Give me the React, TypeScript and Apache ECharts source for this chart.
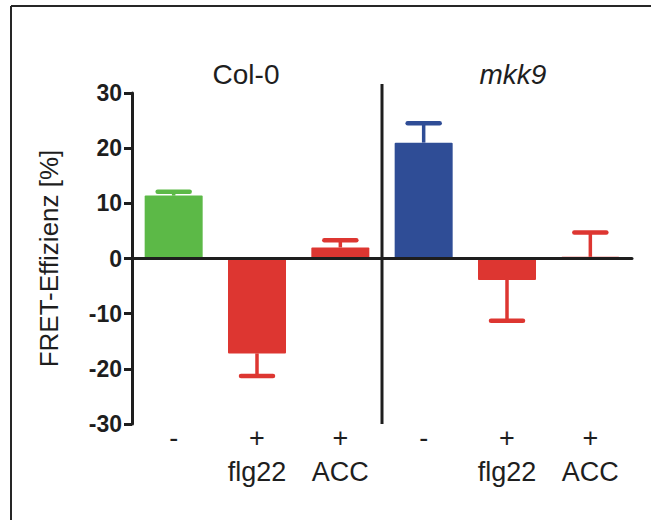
import React, { useEffect, useRef } from "react";
import * as echarts from "echarts";

const genotypes = ["Col-0", "mkk9"];
const treatments = ["-", "+", "+", "-", "+", "+"];
const agents = ["", "flg22", "ACC", "", "flg22", "ACC"];
const means = [11.4, -17.2, 2.0, 21.0, -3.9, 0.3];
const errors = [0.7, 4.1, 1.3, 3.5, 7.4, 4.4];
const barColors = ["#5CB947", "#DD3631", "#DD3631", "#2F4D96", "#DD3631", "#DD3631"];
const yTicks = [-30, -20, -10, 0, 10, 20, 30];

const FONT = "'Liberation Sans', Arial, Helvetica, sans-serif";
const INK = "#1e1e1e";

export default function App() {
  const ref = useRef<HTMLDivElement | null>(null);

  useEffect(() => {
    if (!ref.current) return;
    const chart = echarts.init(ref.current, null, { renderer: "svg" });
    const cats = treatments.map((t, i) => `${t}|${agents[i]}`);

    const option: any = {
      animation: false,
      backgroundColor: "#ffffff",
      grid: { left: 132, right: 19, top: 93, bottom: 96, containLabel: false },
      xAxis: [
        {
          type: "category",
          data: cats,
          z: 5,
          axisLine: { onZero: true, lineStyle: { color: INK, width: 3 } },
          axisTick: { alignWithLabel: true, length: 8, lineStyle: { color: INK, width: 2.5 } },
          axisLabel: { show: false },
          splitLine: { show: false },
        },
        {
          type: "category",
          data: cats,
          position: "bottom",
          axisLine: { show: false, onZero: false },
          axisTick: { show: false },
          splitLine: { show: false },
          axisLabel: {
            margin: -3,
            fontFamily: FONT,
            fontSize: 27,
            lineHeight: 34,
            color: INK,
            formatter: (v: string) => {
              const [t, a] = v.split("|");
              return `${t}\n${a || " "}`;
            },
          },
        },
      ],
      yAxis: {
        type: "value",
        min: yTicks[0],
        max: yTicks[yTicks.length - 1],
        interval: 10,
        name: "FRET-Effizienz [%]",
        nameLocation: "middle",
        nameGap: 70,
        nameTextStyle: { fontFamily: FONT, fontSize: 26, color: INK },
        axisLine: { show: true, onZero: false, lineStyle: { color: INK, width: 3 } },
        axisTick: { show: true, length: 8, lineStyle: { color: INK, width: 3 } },
        axisLabel: { margin: 10, fontFamily: FONT, fontSize: 23, fontWeight: "bold", color: INK },
        splitLine: { show: false },
      },
      series: [
        {
          type: "bar",
          xAxisIndex: 0,
          barWidth: 58,
          data: means.map((v, i) => ({ value: v, itemStyle: { color: barColors[i] } })),
          itemStyle: { borderRadius: 1 },
          z: 2,
        },
        {
          type: "custom",
          xAxisIndex: 0,
          z: 3,
          data: means.map((m, i) => [i, m, errors[i]]),
          renderItem: (params: any, api: any) => {
            const idx = api.value(0);
            const m = api.value(1);
            const e = api.value(2);
            const end = m >= 0 ? m + e : m - e;
            const p0 = api.coord([idx, m]);
            const p1 = api.coord([idx, end]);
            const color = barColors[idx];
            const half = 16;
            return {
              type: "group",
              children: [
                {
                  type: "line",
                  shape: { x1: p0[0], y1: p0[1], x2: p1[0], y2: p1[1] },
                  style: { stroke: color, lineWidth: 3.5 },
                },
                {
                  type: "line",
                  shape: { x1: p1[0] - half, y1: p1[1], x2: p1[0] + half, y2: p1[1] },
                  style: { stroke: color, lineWidth: 4.5, lineCap: "round" },
                },
              ],
            };
          },
        },
      ],
    };
    chart.setOption(option);

    const cx = (i: number) => chart.convertToPixel({ xAxisIndex: 0 }, i) as number;
    const yTop = chart.convertToPixel({ yAxisIndex: 0 }, yTicks[yTicks.length - 1]) as number;
    const yBot = chart.convertToPixel({ yAxisIndex: 0 }, yTicks[0]) as number;
    const sepX = (cx(2) + cx(3)) / 2;
    const g1 = cx(1);
    const g2 = cx(4);

    chart.setOption({
      graphic: [
        {
          type: "line",
          shape: { x1: 11, y1: 6, x2: 651, y2: 6 },
          style: { stroke: "#262626", lineWidth: 2 },
        },
        {
          type: "line",
          shape: { x1: 11, y1: 6, x2: 11, y2: 520 },
          style: { stroke: "#262626", lineWidth: 2 },
        },
        {
          type: "line",
          shape: { x1: sepX, y1: yTop - 9, x2: sepX, y2: yBot },
          style: { stroke: INK, lineWidth: 3 },
          z: 10,
        },
        {
          type: "text",
          x: g1 - 11,
          y: 74,
          style: {
            text: genotypes[0],
            fontFamily: FONT,
            fontSize: 28,
            fill: INK,
            textAlign: "center",
            textVerticalAlign: "middle",
          },
        },
        {
          type: "text",
          x: g2 + 6,
          y: 74,
          style: {
            text: genotypes[1],
            fontFamily: FONT,
            fontSize: 28,
            fontStyle: "italic",
            fill: INK,
            textAlign: "center",
            textVerticalAlign: "middle",
          },
        },
      ],
    });

    return () => chart.dispose();
  }, []);

  return (
    <div
      ref={ref}
      style={{ position: "fixed", left: 0, top: 0, width: 651, height: 520, background: "#fff" }}
    />
  );
}
